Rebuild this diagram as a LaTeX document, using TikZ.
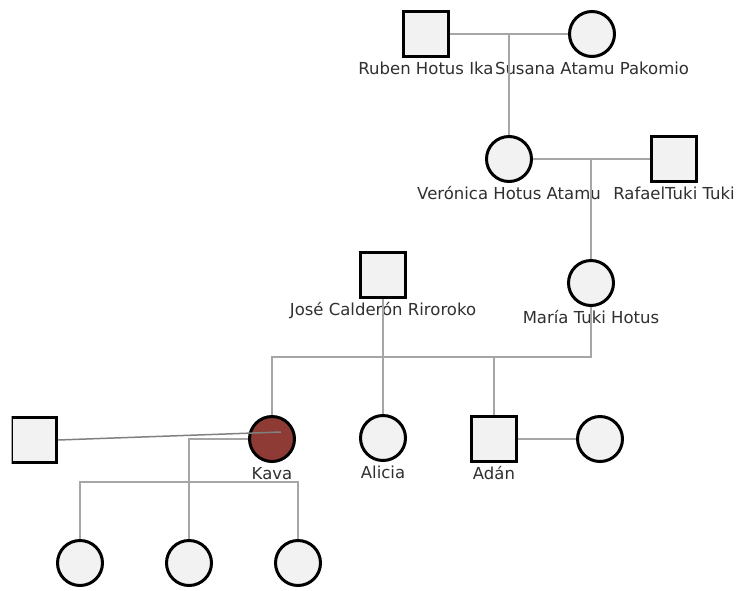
\documentclass[tikz,border=0pt]{standalone}
\usepackage{fontspec}
\setmainfont{DejaVu Sans}
\usepackage{xcolor}
\usepackage{tikz}
\usetikzlibrary{positioning}

\definecolor{kavared}{HTML}{8E3B35}
\definecolor{boxfill}{HTML}{F2F2F2}
\definecolor{linegray}{HTML}{A6A6A6}
\definecolor{txtgray}{HTML}{303030}
\newcommand{\tagfont}{\fontsize{16.5}{19}\selectfont}

\begin{document}
\begin{tikzpicture}[x=1pt, y=-1pt,
    male/.style={draw, rectangle, line width=3pt, fill=boxfill, minimum size=45pt, inner sep=0pt},
    female/.style={draw, circle, line width=3pt, fill=boxfill, minimum size=45pt, inner sep=0pt},
    tag/.style={inner sep=0pt, text=txtgray, font=\tagfont, text height=12.5pt, text depth=3.5pt},
    link/.style={draw=linegray, line width=2pt}]
            \fill[white] (0,0) rectangle (741,590);
            \useasboundingbox (0,0) rectangle (741,590);

            \draw (426,34) node[male]                   (ruben) {};
            \draw (592,34) node[female]                 (susana) {};
            \draw (509,159) node[female]                (vero) {};
            \draw (674,159) node[male]                  (rafael) {};
            \draw (383,275) node[male]                  (jose) {};
            \draw (591,283) node[female]                (maria) {};
            \begin{scope}
            \clip (11.5,0) rectangle (741,590);
            \draw (34,440) node[male]                   (partner) {};
            \end{scope}
            \draw (272,439) node[female, fill=kavared]  (kava) {};
            \draw (383,438) node[female]                (alicia) {};
            \draw (494,439) node[male]                  (adan) {};
            \draw (600,439) node[female]                (wife) {};
            \draw (80,563) node[female]                 (kid1) {};
            \draw (189,563) node[female]                (kid2) {};
            \draw (298,563) node[female]                (kid3) {};

            \node[tag, below=3.5pt of ruben]  (rubenT) {Ruben Hotus Ika};
            \node[tag, below=3.5pt of susana] (susanaT) {Susana Atamu Pakomio};
            \node[tag, below=3.5pt of vero]   (veroT) {Verónica Hotus Atamu};
            \node[tag, below=3.5pt of rafael] (rafaelT) {RafaelTuki Tuki};
            \node[tag, below=3.5pt of jose]   (joseT) {José Calderón Riroroko};
            \node[tag, below=3.5pt of maria]  (mariaT) {María Tuki Hotus};
            \node[tag, below=3.5pt of kava]   (kavaT) {Kava};
            \node[tag, below=3.5pt of alicia] (aliciaT) {Alicia};
            \node[tag, below=3.5pt of adan]   (adanT) {Adán};

            \coordinate (m1) at (509,34);
            \coordinate (m2) at (591,159);
            \coordinate (sib1) at (591,357);
            \coordinate (sib2) at (189,482);
            \coordinate (kavaend) at (281,432);

            \draw[link] (ruben) -- (susana);
            \draw[link] (m1) -- (vero);
            \draw[link] (vero) -- (rafael);
            \draw[link] (m2) -- (maria);
            \draw[link] (maria) -- (sib1) -| (kava);
            \draw[link] (jose) -- (alicia);
            \draw[link] (adan.north) -- (adan.north |- sib1);
            \draw[link] (adan) -- (wife);
            \draw[draw=gray, line width=1.5pt] (partner.east) -- (kavaend);
            \draw[link] (kava.west) -| (kid2.north);
            \draw[link] (kid1.north) |- (sib2) -| (kid3.north);

            \end{tikzpicture}
\end{document}
